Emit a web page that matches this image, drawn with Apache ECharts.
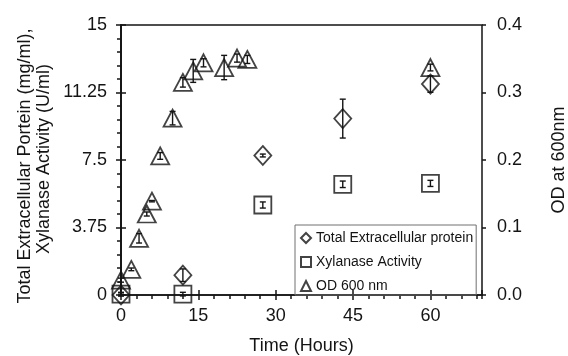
<!DOCTYPE html>
<html>
<head>
<meta charset="utf-8">
<script src="https://cdn.jsdelivr.net/npm/echarts@6/dist/echarts.min.js"></script>
<style>
  html, body { margin: 0; padding: 0; background: #fff; }
  #chart { width: 568px; height: 356px; }
</style>
</head>
<body>
<div id="chart"></div>
<script>
// Optical density over time (right axis)
const timeOD = [0, 2, 3.5, 5, 6, 7.6, 10, 12, 14, 16, 20, 22.5, 24.5, 60];
const odValues = [0.022, 0.038, 0.084, 0.12, 0.139, 0.206, 0.262, 0.315, 0.332, 0.344, 0.337, 0.351, 0.349, 0.337];
const odErrors = [0.003, 0.002, 0.007, 0.003, 0.001, 0.005, 0.01, 0.007, 0.017, 0.006, 0.018, 0.006, 0.006, 0.005];

// Protein and enzyme measurements (left axis)
const timeEnzyme = [0, 12, 27.5, 43, 60];
const proteinValues = [0, 1.1, 7.75, 9.8, 11.72];
const proteinErrors = [0.05, 0.35, 0.08, 1.08, 0.46];
const xylanaseValues = [0.05, 0.05, 5.0, 6.15, 6.2];
const xylanaseErrors = [0.1, 0.1, 0.17, 0.18, 0.17];

// Axis ticks
const xTicks = [0, 15, 30, 45, 60];
const leftTicks = [0, 3.75, 7.5, 11.25, 15];
const rightTicks = [0.0, 0.1, 0.2, 0.3, 0.4];

const names = ['Total Extracellular protein', 'Xylanase Activity', 'OD 600 nm'];

const INK = '#141414';
const FONT = '"Liberation Sans", Arial, sans-serif';
const lineStyle = { color: INK, width: 1.5 };

function pairs(xs, ys) { return xs.map((x, i) => [x, ys[i]]); }
function triples(xs, ys, es) { return xs.map((x, i) => [x, ys[i], es[i]]); }

function errorBar(params, api) {
  const x = api.value(0), y = api.value(1), e = api.value(2);
  const top = api.coord([x, y + e]);
  const bot = api.coord([x, y - e]);
  const hw = 3;
  const st = { stroke: INK, lineWidth: 1.4 };
  return {
    type: 'group',
    children: [
      { type: 'line', shape: { x1: top[0], y1: top[1], x2: bot[0], y2: bot[1] }, style: st },
      { type: 'line', shape: { x1: top[0] - hw, y1: top[1], x2: top[0] + hw, y2: top[1] }, style: st },
      { type: 'line', shape: { x1: bot[0] - hw, y1: bot[1], x2: bot[0] + hw, y2: bot[1] }, style: st }
    ]
  };
}

const hollow = { color: 'transparent', borderColor: INK, borderWidth: 1.8 };

const xBase = { type: 'value', min: xTicks[0], max: 70, splitLine: { show: false } };
const leftBase = { type: 'value', min: leftTicks[0], max: leftTicks[leftTicks.length - 1], interval: 3.75, position: 'left', splitLine: { show: false } };
const rightBase = { type: 'value', min: rightTicks[0], max: rightTicks[rightTicks.length - 1], interval: 0.1, position: 'right', splitLine: { show: false } };

const chart = echarts.init(document.getElementById('chart'), null, { renderer: 'canvas' });
chart.setOption({
  animation: false,
  backgroundColor: '#fff',
  grid: { left: 121, right: 86, top: 25, bottom: 61, show: true, borderColor: INK, borderWidth: 1.5,
    backgroundColor: 'transparent', containLabel: false, outerBoundsMode: 'none' },
  legend: {
    data: names,
    orient: 'vertical',
    left: 295, top: 225,
    padding: [6, 3, 2, 5],
    itemGap: 10,
    itemWidth: 10, itemHeight: 10,
    borderColor: '#707070', borderWidth: 1,
    textStyle: { fontSize: 14, fontFamily: FONT, color: INK }
  },
  xAxis: [
    Object.assign({}, xBase, {
      interval: 15, position: 'bottom',
      axisLine: { show: true, lineStyle },
      axisTick: { show: true, length: 5, lineStyle },
      axisLabel: { fontSize: 18, fontFamily: FONT, color: INK, margin: 12, showMaxLabel: false,
        formatter: v => (xTicks.includes(v) ? String(v) : '') },
      name: 'Time (Hours)', nameLocation: 'middle', nameGap: 42,
      nameTextStyle: { fontSize: 18, fontFamily: FONT, color: INK }
    }),
    Object.assign({}, xBase, {
      interval: 15, position: 'bottom',
      axisLine: { show: false }, axisTick: { show: true, inside: true, length: 5, lineStyle },
      axisLabel: { show: false }
    }),
    Object.assign({}, xBase, {
      interval: 3, position: 'bottom',
      axisLine: { show: false }, axisTick: { show: true, length: 4, lineStyle },
      axisLabel: { show: false }
    })
  ],
  yAxis: [
    Object.assign({}, leftBase, {
      axisLine: { show: true, lineStyle },
      axisTick: { show: true, length: 5, lineStyle },
      minorTick: { show: true, splitNumber: 5, length: 4, lineStyle },
      axisLabel: { fontSize: 18, fontFamily: FONT, color: INK, margin: 14 }
    }),
    Object.assign({}, leftBase, {
      axisLine: { show: false }, axisTick: { show: true, inside: true, length: 5, lineStyle },
      axisLabel: { show: false }
    }),
    Object.assign({}, rightBase, {
      axisLine: { show: true, lineStyle },
      axisTick: { show: true, inside: true, length: 5, lineStyle },
      minorTick: { show: true, splitNumber: 5, length: 4, lineStyle },
      axisLabel: { fontSize: 18, fontFamily: FONT, color: INK, margin: 15, formatter: v => v.toFixed(1) },
      name: 'OD at 600nm', nameLocation: 'middle', nameGap: 68, nameRotate: 90,
      nameTextStyle: { fontSize: 18, fontFamily: FONT, color: INK }
    }),
    Object.assign({}, rightBase, {
      axisLine: { show: false }, axisTick: { show: true, length: 4, lineStyle },
      axisLabel: { show: false }
    })
  ],
  graphic: [
    { type: 'text', x: 25, y: 166, rotation: Math.PI / 2, silent: true,
      style: { text: 'Total Extracellular Portein (mg/ml),', fontSize: 18, fontFamily: FONT, fill: INK, align: 'center', verticalAlign: 'middle' } },
    { type: 'text', x: 44, y: 159, rotation: Math.PI / 2, silent: true,
      style: { text: 'Xylanase Activity (U/ml)', fontSize: 18, fontFamily: FONT, fill: INK, align: 'center', verticalAlign: 'middle' } }
  ],
  series: [
    { name: names[0], type: 'scatter', xAxisIndex: 0, yAxisIndex: 0, symbol: 'diamond', symbolSize: [17, 19],
      itemStyle: hollow, data: pairs(timeEnzyme, proteinValues), z: 3 },
    { name: names[1], type: 'scatter', xAxisIndex: 0, yAxisIndex: 0, symbol: 'rect', symbolSize: 17,
      itemStyle: hollow, data: pairs(timeEnzyme, xylanaseValues), z: 3 },
    { name: names[2], type: 'scatter', xAxisIndex: 0, yAxisIndex: 2, symbol: 'triangle', symbolSize: [18, 17],
      itemStyle: hollow, data: pairs(timeOD, odValues), z: 3 },
    { type: 'custom', xAxisIndex: 0, yAxisIndex: 0, silent: true, renderItem: errorBar,
      encode: { x: 0, y: 1 }, data: triples(timeEnzyme, proteinValues, proteinErrors), z: 4 },
    { type: 'custom', xAxisIndex: 0, yAxisIndex: 0, silent: true, renderItem: errorBar,
      encode: { x: 0, y: 1 }, data: triples(timeEnzyme, xylanaseValues, xylanaseErrors), z: 4 },
    { type: 'custom', xAxisIndex: 0, yAxisIndex: 2, silent: true, renderItem: errorBar,
      encode: { x: 0, y: 1 }, data: triples(timeOD, odValues, odErrors), z: 4 }
  ]
});
</script>
</body>
</html>
